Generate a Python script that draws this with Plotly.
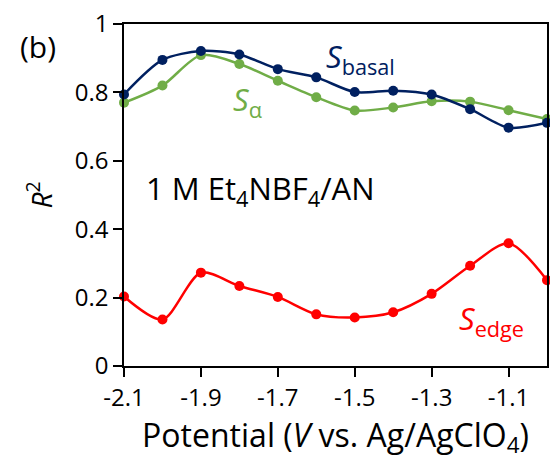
import plotly.graph_objects as go

potential = [-2.1, -2.0, -1.9, -1.8, -1.7, -1.6, -1.5, -1.4, -1.3, -1.2, -1.1, -1.0]
s_basal = [0.794, 0.895, 0.921, 0.911, 0.868, 0.844, 0.801, 0.805, 0.794, 0.751, 0.697, 0.711]
s_alpha = [0.770, 0.820, 0.909, 0.883, 0.834, 0.786, 0.747, 0.756, 0.774, 0.773, 0.748, 0.722]
s_edge = [0.203, 0.136, 0.273, 0.234, 0.202, 0.151, 0.142, 0.157, 0.211, 0.293, 0.359, 0.251]
x_ticks = [-2.1, -1.9, -1.7, -1.5, -1.3, -1.1]
x_tick_labels = ["-2.1", "-1.9", "-1.7", "-1.5", "-1.3", "-1.1"]
y_ticks = [0, 0.2, 0.4, 0.6, 0.8, 1]
y_tick_labels = ["0", "0.2", "0.4", "0.6", "0.8", "1"]

FONT = "Open Sans"
W, H = 550, 471
L, T = 124, 24
R = W - 547
B = H - 366
PW, PH = W - L - R, H - T - B

fig = go.Figure()
for ys, col in [(s_alpha, "#70AD47"), (s_basal, "#002060"), (s_edge, "#FF0000")]:
    fig.add_trace(go.Scatter(
        x=potential, y=ys, mode="lines+markers",
        line=dict(color=col, width=2.5, shape="spline", smoothing=0.8),
        marker=dict(color=col, size=10),
        cliponaxis=False, showlegend=False))

fig.update_layout(
    width=W, height=H,
    margin=dict(l=L, r=R, t=T, b=B, autoexpand=False),
    paper_bgcolor="white", plot_bgcolor="white",
    font=dict(family=FONT, color="black", size=24),
    xaxis=dict(range=[-2.1, -1.0], tickvals=x_ticks, ticktext=x_tick_labels,
               ticks="outside", ticklen=9, tickwidth=1.5, tickcolor="black",
               showline=True, linecolor="black", linewidth=1.5, mirror=True,
               showgrid=False, zeroline=False, automargin=False,
               tickfont=dict(size=24, family=FONT),
               title=dict(text="Potential (<i>V</i> vs. Ag/AgClO<sub>4</sub>)",
                          font=dict(size=32, family=FONT), standoff=4)),
    yaxis=dict(range=[0, 1], tickvals=y_ticks, ticktext=y_tick_labels,
               ticks="outside", ticklen=9, tickwidth=1.5, tickcolor="black",
               showline=True, linecolor="black", linewidth=1.5, mirror=True,
               showgrid=False, zeroline=False, automargin=False,
               tickfont=dict(size=24, family=FONT),
               title=dict(text="<i>R</i><sup>2</sup>", font=dict(size=28, family=FONT), standoff=14)),
)

def px_ann(text, x, y, size, color, xanchor="left"):
    # x, y given in page pixels, converted to axis-domain fractions
    fig.add_annotation(x=(x - L) / PW, y=(T + PH - y) / PH, xref="x domain", yref="y domain",
                       text=text, showarrow=False, xanchor=xanchor, yanchor="middle",
                       font=dict(size=size, family=FONT, color=color))

px_ann("(b)", 18, 46, 30, "black")
px_ann("1 M Et<sub>4</sub>NBF<sub>4</sub>/AN", 144, 190, 31, "black")
px_ann("<i>S</i><sub>basal</sub>", 324, 58, 31, "#002060")
px_ann("<i>S</i><sub>α</sub>", 231, 101, 31, "#70AD47")
px_ann("<i>S</i><sub>edge</sub>", 457, 320, 31, "#FF0000")

fig.write_html(
    "out.html",
    config={"displayModeBar": False},
    post_script="document.documentElement.style.overflow='hidden';"
                "document.body.style.margin='0';document.body.style.overflow='hidden';",
)
